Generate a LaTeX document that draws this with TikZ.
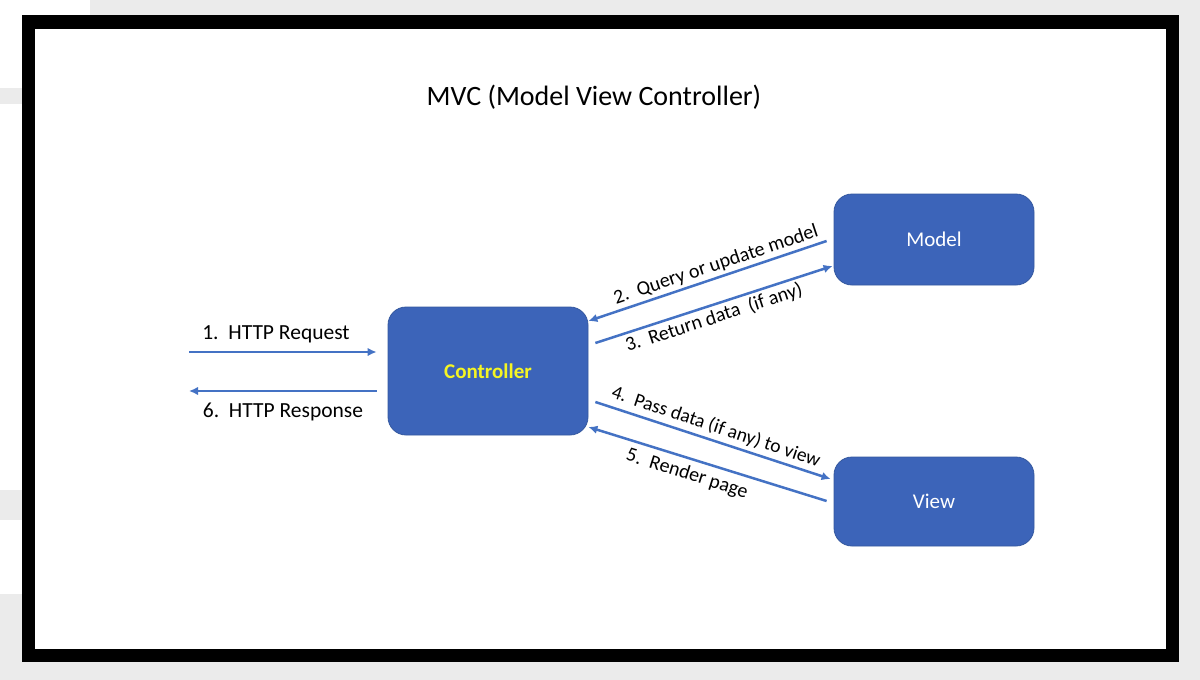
\documentclass[tikz,border=0pt]{standalone}
\usepackage{fontspec}
\setmainfont{Carlito}
\usetikzlibrary{arrows.meta,calc}
\definecolor{boxblue}{HTML}{3C64B9}
\definecolor{boxedge}{HTML}{34589F}
\definecolor{arrblue}{HTML}{4472C4}
\definecolor{ctrlyellow}{HTML}{F5F523}
\definecolor{bggray}{HTML}{EBEBEB}
\tikzset{
  blk/.style={draw=boxedge, line width=0.8pt, fill=boxblue, rounded corners=18pt, inner sep=0pt, font=\fontsize{21}{24}\selectfont, text=white},
  arr/.style={draw=arrblue, line width=2.5pt, -{Latex[length=9pt,width=8.5pt]}},
  lbl/.style={font=\fontsize{21.5}{24}\selectfont, inner sep=0pt},
  rlbl/.style={font=\fontsize{20}{24}\selectfont, inner sep=0pt},
}
\begin{document}
\begin{tikzpicture}[x=1pt,y=-1pt]
\useasboundingbox (0,0) rectangle (1200,680);
% screenshot background
\fill[bggray] (0,0) rectangle (1200,680);
\fill[white] (0,0) rectangle (90,88);
\fill[white] (0,104) rectangle (22,490);
\fill[white] (0,520) rectangle (22,594);
% frame
\fill[black] (22,15) rectangle (1179,662);
\fill[white] (35,29) rectangle (1166,649);
% title
\node[font=\fontsize{28}{32}\selectfont] (title) at (594,97) {MVC (Model View Controller)};
% boxes
\node[blk, minimum width=200pt, minimum height=128pt, text=ctrlyellow, font=\fontsize{21}{24}\selectfont\bfseries] (ctrl) at (488,371) {Controller};
\node[blk, minimum width=200pt, minimum height=91pt] (model) at (934,239.5) {Model};
\node[blk, minimum width=200pt, minimum height=89pt] (view) at (934,501.5) {View};
% outside coordinates
\coordinate (reqstart) at (189,352);
\coordinate (respend) at (189,391);
% HTTP arrows
\draw[arr] (reqstart) -- ($(ctrl.west)+(-11,-19)$);
\draw[arr] ($(ctrl.west)+(-11,20)$) -- (respend);
\node[lbl] (l1) at (276,334) {1.\ \ HTTP Request};
\node[lbl] (l6) at (283,412) {6.\ \ HTTP Response};
% controller <-> model
\draw[arr] ($(model.west)+(-7,1.5)$) -- ($(ctrl.east)+(0,-50)$);
\draw[arr] ($(ctrl.east)+(7,-28)$) -- ($(model.west)+(-1,26.5)$);
\node[rlbl, rotate=18.5] (l2) at (716,265) {2.\ \ Query or update model};
\node[rlbl, rotate=18] (l3) at (714,318) {3.\ \ Return data\ \ (if any)};
% controller <-> view
\draw[arr] ($(ctrl.east)+(7,31)$) -- ($(view.west)+(-3,-22.5)$);
\draw[arr] ($(view.west)+(-7,-0.5)$) -- ($(ctrl.east)+(0,56)$);
\node[rlbl, rotate=-18.5, font=\fontsize{19.5}{24}\selectfont] (l4) at (716,427) {4.\ \ Pass data (if any) to view};
\node[rlbl, rotate=-17.5] (l5) at (687,474) {5.\ \ Render page};
\end{tikzpicture}
\end{document}
